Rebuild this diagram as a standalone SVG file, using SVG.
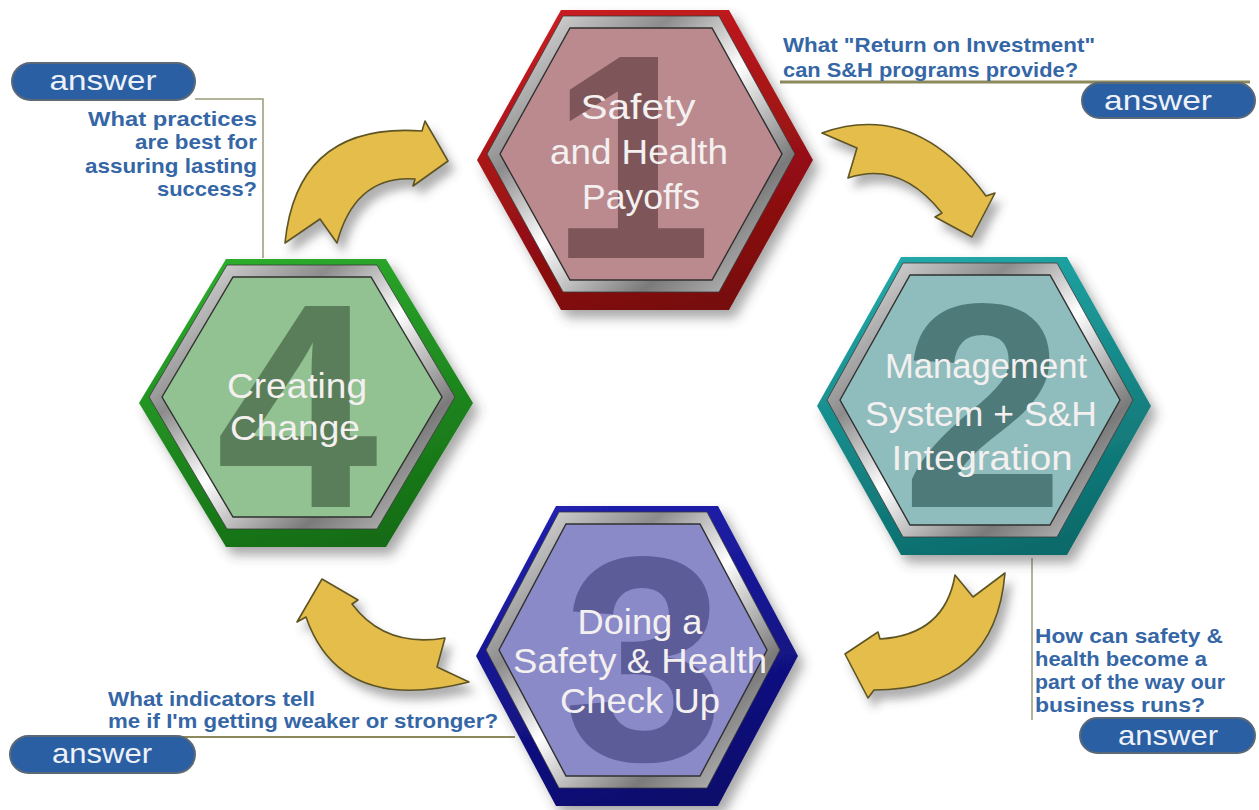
<svg xmlns="http://www.w3.org/2000/svg" width="1259" height="810" viewBox="0 0 1259 810">
<defs>
<style>
.hex-t{font-family:"Liberation Sans",Arial,sans-serif;font-size:35px;fill:#f4f0f0;text-anchor:middle}
.digit{font-family:"Liberation Sans",Arial,sans-serif;font-weight:bold;font-size:292px;text-anchor:middle}
.q{font-family:"Liberation Sans",Arial,sans-serif;font-weight:bold;font-size:21px;fill:#3566a6}
.ans-b{fill:#2b5fa3;stroke:#5a6878;stroke-width:2}
.ans-t{font-family:"Liberation Sans",Arial,sans-serif;font-size:28px;fill:#eef2f8;text-anchor:middle}
.lead{fill:none;stroke:#9a9a78;stroke-width:1.5}
.arrow{fill:#e4bd4c;stroke:#5e5424;stroke-width:1.6;stroke-linejoin:round}
.ring{fill:url(#silver);stroke:#3a3a3a;stroke-width:0.8}
.face-edge{stroke:#303030;stroke-width:1.4}
</style>
<linearGradient id="silver" x1="0" y1="0" x2="1" y2="1">
<stop offset="0" stop-color="#f4f4f4"/><stop offset="0.3" stop-color="#8c8c8c"/><stop offset="0.5" stop-color="#ffffff"/><stop offset="0.75" stop-color="#7a7a7a"/><stop offset="1" stop-color="#d8d8d8"/>
</linearGradient>
<linearGradient id="bRed" x1="0.3" y1="0" x2="0.6" y2="1"><stop offset="0" stop-color="#c81c20"/><stop offset="1" stop-color="#780a0c"/></linearGradient>
<linearGradient id="bTeal" x1="0.3" y1="0" x2="0.6" y2="1"><stop offset="0" stop-color="#22a8a8"/><stop offset="1" stop-color="#0c6a6a"/></linearGradient>
<linearGradient id="bBlue" x1="0.3" y1="0" x2="0.6" y2="1"><stop offset="0" stop-color="#2020ae"/><stop offset="1" stop-color="#0a0a6c"/></linearGradient>
<linearGradient id="bGreen" x1="0.3" y1="0" x2="0.6" y2="1"><stop offset="0" stop-color="#2cac2c"/><stop offset="1" stop-color="#146c14"/></linearGradient>
<filter id="shadow" x="-20%" y="-20%" width="150%" height="150%">
<feDropShadow dx="6" dy="8" stdDeviation="6" flood-color="#404040" flood-opacity="0.45"/>
</filter>
<filter id="ashadow" x="-30%" y="-30%" width="170%" height="170%">
<feDropShadow dx="6" dy="9" stdDeviation="5" flood-color="#505050" flood-opacity="0.45"/>
</filter>
</defs>
<rect width="1259" height="810" fill="#ffffff"/>

<g id="connectors">
<polyline class="lead" points="195,99 263,99 263,258"/>
<line x1="780" y1="82" x2="1250" y2="82" stroke="#8c8a5c" stroke-width="3"/>
<line x1="107" y1="737" x2="515" y2="737" stroke="#8c8a5c" stroke-width="2"/>
<polyline class="lead" points="1032,558 1032,720"/>
<g filter="url(#ashadow)">
<path id="arrow-4-1" class="arrow" d="M 285,243 Q 297,122 422,131 L 425,121 L 448,161 L 413,186 L 415,179 Q 355,175 337,243 L 320,219 Z"/>
<path id="arrow-1-2" class="arrow" d="M 822,133 Q 915,100 986,196 L 995,193 L 972,237 L 935,217 L 942,213 Q 900,160 848,178 L 857,148 Z"/>
<path id="arrow-2-3" class="arrow" d="M 1005,573 Q 995,690 874,690 L 868,698 L 845,654 L 878,632 L 880,639 Q 945,635 955,575 L 973,597 Z"/>
<path id="arrow-3-4" class="arrow" d="M 297,622 L 322,579 L 358,600 L 352,604 Q 385,648 445,638 L 437,667 L 469,682 Q 340,715 306,617 Z"/>
</g>
</g>

<g id="node-1">
<polygon points="477,160 561,10 729,10 813,160 729,310 561,310" fill="url(#bRed)" filter="url(#shadow)"/>
<polygon class="ring" points="487,154 563,16 719,16 795,154 719,292 563,292"/>
<polygon class="face-edge" fill="#ba8a8e" points="500,154 570,28 712,28 782,154 712,280 570,280"/>
<text class="digit" x="631" y="258" fill="#7e565a">1</text>
<text class="hex-t" x="638" y="119" textLength="115" lengthAdjust="spacingAndGlyphs">Safety</text>
<text class="hex-t" x="639" y="164" textLength="178" lengthAdjust="spacingAndGlyphs">and Health</text>
<text class="hex-t" x="641" y="209" textLength="118" lengthAdjust="spacingAndGlyphs">Payoffs</text>
</g>

<g id="node-2">
<polygon points="817,406 901,257 1067,257 1151,406 1067,555 901,555" fill="url(#bTeal)" filter="url(#shadow)"/>
<polygon class="ring" points="827,400 903,263 1057,263 1133,400 1057,537 903,537"/>
<polygon class="face-edge" fill="#8fbdbd" points="840,400 910,275 1050,275 1120,400 1050,525 910,525"/>
<text class="digit" x="983" y="507" fill="#4e7a7a">2</text>
<text class="hex-t" x="986" y="378" textLength="202" lengthAdjust="spacingAndGlyphs">Management</text>
<text class="hex-t" x="981" y="426" textLength="232" lengthAdjust="spacingAndGlyphs">System + S&amp;H</text>
<text class="hex-t" x="982" y="470" textLength="181" lengthAdjust="spacingAndGlyphs">Integration</text>
</g>

<g id="node-3">
<polygon points="476,656 556,506 718,506 798,656 718,806 556,806" fill="url(#bBlue)" filter="url(#shadow)"/>
<polygon class="ring" points="486,650 559,512 707,512 780,650 707,788 559,788"/>
<polygon class="face-edge" fill="#8a8ac8" points="499,650 566,524 700,524 767,650 700,776 566,776"/>
<text class="digit" x="644" y="760" fill="#5c5c98">3</text>
<text class="hex-t" x="640" y="634" textLength="125" lengthAdjust="spacingAndGlyphs">Doing a</text>
<text class="hex-t" x="640" y="673" textLength="254" lengthAdjust="spacingAndGlyphs">Safety &amp; Health</text>
<text class="hex-t" x="640" y="713" textLength="160" lengthAdjust="spacingAndGlyphs">Check Up</text>
</g>

<g id="node-4">
<polygon points="139,403 226,259 386,259 473,403 386,547 226,547" fill="url(#bGreen)" filter="url(#shadow)"/>
<polygon class="ring" points="149,397 227,265 377,265 455,397 377,529 227,529"/>
<polygon class="face-edge" fill="#92c192" points="162,397 233,277 371,277 442,397 371,517 233,517"/>
<text class="digit" x="297" y="507" fill="#5a7e5a">4</text>
<text class="hex-t" x="297" y="398" textLength="140" lengthAdjust="spacingAndGlyphs">Creating</text>
<text class="hex-t" x="295" y="440" textLength="130" lengthAdjust="spacingAndGlyphs">Change</text>
</g>

<g id="question-4">
<text class="q" x="257" y="126" text-anchor="end" textLength="169" lengthAdjust="spacingAndGlyphs">What practices</text>
<text class="q" x="257" y="149" text-anchor="end" textLength="122" lengthAdjust="spacingAndGlyphs">are best for</text>
<text class="q" x="257" y="173" text-anchor="end" textLength="172" lengthAdjust="spacingAndGlyphs">assuring lasting</text>
<text class="q" x="257" y="196" text-anchor="end" textLength="100" lengthAdjust="spacingAndGlyphs">success?</text>
</g>
<g id="question-1">
<text class="q" x="783" y="52" textLength="312" lengthAdjust="spacingAndGlyphs">What "Return on Investment"</text>
<text class="q" x="783" y="77" textLength="295" lengthAdjust="spacingAndGlyphs">can S&amp;H programs provide?</text>
</g>
<g id="question-3">
<text class="q" x="108" y="706" textLength="207" lengthAdjust="spacingAndGlyphs">What indicators tell</text>
<text class="q" x="108" y="728" textLength="390" lengthAdjust="spacingAndGlyphs">me if I'm getting weaker or stronger?</text>
</g>
<g id="question-2">
<text class="q" x="1035" y="643" textLength="188" lengthAdjust="spacingAndGlyphs">How can safety &amp;</text>
<text class="q" x="1035" y="666" textLength="172" lengthAdjust="spacingAndGlyphs">health become a</text>
<text class="q" x="1035" y="689" textLength="190" lengthAdjust="spacingAndGlyphs">part of the way our</text>
<text class="q" x="1035" y="712" textLength="170" lengthAdjust="spacingAndGlyphs">business runs?</text>
</g>

<g id="answer-4">
<rect class="ans-b" x="12" y="63" width="183" height="37" rx="18.5"/>
<text class="ans-t" x="103" y="90" textLength="107" lengthAdjust="spacingAndGlyphs">answer</text>
</g>
<g id="answer-1">
<rect class="ans-b" x="1082" y="83" width="173" height="35" rx="17.5"/>
<text class="ans-t" x="1158" y="110" textLength="108" lengthAdjust="spacingAndGlyphs">answer</text>
</g>
<g id="answer-2">
<rect class="ans-b" x="1080" y="718" width="175" height="35" rx="17.5"/>
<text class="ans-t" x="1168" y="745" textLength="100" lengthAdjust="spacingAndGlyphs">answer</text>
</g>
<g id="answer-3">
<rect class="ans-b" x="10" y="736" width="185" height="37" rx="18.5"/>
<text class="ans-t" x="102" y="763" textLength="100" lengthAdjust="spacingAndGlyphs">answer</text>
</g>
</svg>
